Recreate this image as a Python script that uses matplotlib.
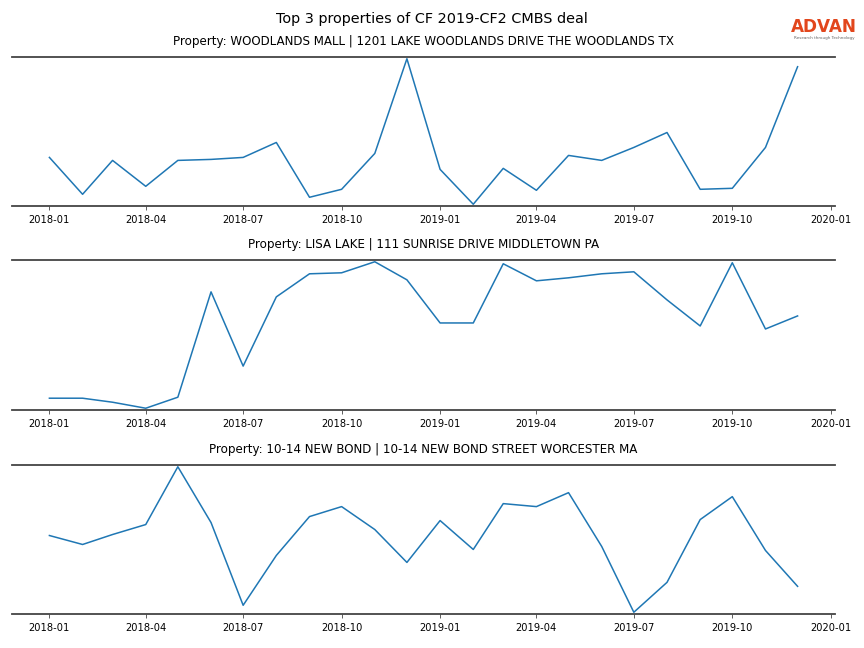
import pandas as pd
import matplotlib
matplotlib.use("Agg")
import matplotlib.pyplot as plt
import matplotlib.dates as mdates

months = pd.date_range("2018-01-01", "2019-12-01", freq="MS")

titles = [
    "Property: WOODLANDS MALL | 1201 LAKE WOODLANDS DRIVE THE WOODLANDS TX",
    "Property: LISA LAKE | 111 SUNRISE DRIVE MIDDLETOWN PA",
    "Property: 10-14 NEW BOND | 10-14 NEW BOND STREET WORCESTER MA",
]

# values (relative units, no y axis shown)
woodlands = [47, 10, 44, 18, 44, 45, 47, 62, 7, 15, 51, 146, 35, 0, 36, 14,
             49, 44, 57, 72, 15, 16, 57, 138]
lisa_lake = [10, 10, 6, 0, 11, 116, 42, 111, 134, 135, 146, 128, 85, 85, 144, 127,
             130, 134, 136, 108, 82, 145, 79, 92]
new_bond = [78, 69, 79, 89, 147, 91, 8, 58, 97, 107, 84, 51, 93, 64, 110, 107,
            121, 67, 1, 31, 94, 117, 63, 27]
series = [woodlands, lisa_lake, new_bond]

fig = plt.figure(figsize=(8.64, 6.48), dpi=100)
fig.suptitle("Top 3 properties of CF 2019-CF2 CMBS deal", fontsize=10.4, y=0.982)

# axes boxes in figure fractions: (top px, bottom px)
boxes = [(57, 206), (260, 410), (465, 614)]
H = 648.0
for (top, bot), title, vals in zip(boxes, titles, series):
    ax = fig.add_axes([12 / 864, 1 - bot / H, (835 - 12) / 864, (bot - top) / H])
    ax.plot(months, vals, color="#1f77b4", linewidth=1.1)
    ax.set_title(title, fontsize=8.6, pad=8.5)
    ax.margins(x=0.05, y=0.012)
    for s in ["left", "right"]:
        ax.spines[s].set_visible(False)
    for s in ["top", "bottom"]:
        ax.spines[s].set_color("#444444")
        ax.spines[s].set_linewidth(1.3)
    ax.set_yticks([])
    ax.xaxis.set_major_locator(mdates.MonthLocator(bymonth=[1, 4, 7, 10]))
    ax.xaxis.set_major_formatter(mdates.DateFormatter("%Y-%m"))
    ax.tick_params(axis="x", labelsize=7.1, length=3, width=0.6, color="#444444")

# logo
fig.text(824 / 864, 1 - 27 / H, "ADVAN", color="#e2461c", fontsize=12.2,
         fontweight="bold", ha="center", va="center")
fig.text(824 / 864, 1 - 38 / H, "Research through Technology", color="#666666",
         fontsize=3, ha="center", va="center")

plt.savefig("out.png", dpi=100)
